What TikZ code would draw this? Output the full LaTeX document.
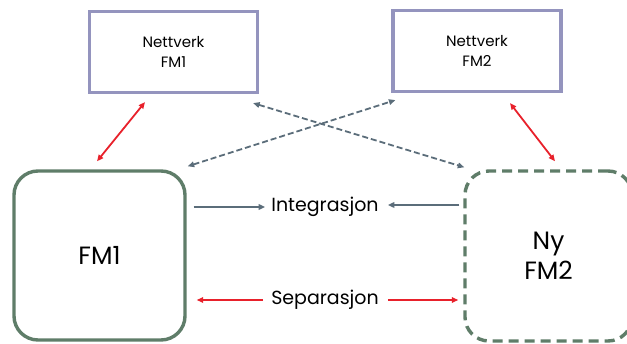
\documentclass[tikz,border=0pt]{standalone}
\usepackage{fontspec}
\setmainfont{Poppins}
\usetikzlibrary{arrows.meta,calc}
\definecolor{netline}{HTML}{9494BE}
\definecolor{fmline}{HTML}{5F7D69}
\definecolor{flowgray}{HTML}{5B6D7A}
\definecolor{flowred}{HTML}{E8212B}
\tikzset{
  x=1pt, y=-1pt,
  netbox/.style={draw=netline, line width=3.2pt, minimum width=168pt, minimum height=81pt,
    align=center, inner sep=0pt, font=\fontsize{15pt}{20pt}\selectfont},
  fmbox/.style={draw=fmline, line width=3.4pt, rounded corners=24pt, align=center,
    inner sep=0pt, font=\fontsize{25pt}{30pt}\selectfont},
  lbl/.style={inner sep=0pt, font=\fontsize{19pt}{22pt}\selectfont},
  tip/.style={-{Triangle[length=6.5pt,width=5.5pt]}},
  tips/.style={{Triangle[length=6.5pt,width=5.5pt]}-{Triangle[length=6.5pt,width=5.5pt]}},
  grayflow/.style={draw=flowgray, line width=1.8pt},
  redflow/.style={draw=flowred, line width=1.8pt},
}
\begin{document}
\begin{tikzpicture}
\useasboundingbox (0,0) rectangle (627,344);

% network boxes
\node[netbox] (nf1) at (173.5,52) {Nettverk\\FM1};
\node[netbox] (nf2) at (477,51) {Nettverk\\FM2};

% organisation boxes
\node[fmbox, minimum width=171pt, minimum height=169pt] (fm1) at (99.5,255.5) {FM1};
\node[fmbox, dashed, dash pattern=on 10pt off 6pt, minimum width=167pt, minimum height=170pt]
  (fm2) at (548.5,256) {Ny\\FM2};

% centre labels
\node[lbl] (integ) at (325,207) {Integrasjon};
\node[lbl] (sep) at (325,300) {Separasjon};

% links to the networks
\draw[redflow, tips] ($(fm1.north)+(-2.5,-8)$) -- ($(nf1.south)+(-28.5,8)$);
\draw[redflow, tips] ($(nf2.south)+(33,10)$) -- ($(fm2.north)+(6.5,-8)$);

% crossing dashed links
\draw[grayflow, tips, dashed, dash pattern=on 6pt off 3pt]
  ($(fm1.north east)+(1,-3)$) -- ($(nf2.south west)+(4,7)$);
\draw[grayflow, tips, dashed, dash pattern=on 6pt off 3pt]
  ($(nf1.south east)+(-6,9)$) -- ($(fm2.north west)+(1,-2)$);

% integration arrows
\draw[grayflow, tip] ($(fm1.east |- integ)+(7,0)$) -- ($(integ.west)+(-6,0)$);
\draw[grayflow, tip] ($(fm2.west |- integ)+(-4,-2)$) -- ($(integ.east)+(9,-2)$);

% separation arrows
\draw[redflow, tip] ($(sep.west)+(-8,0)$) -- ($(fm1.east |- sep)+(10,0)$);
\draw[redflow, tip] ($(sep.east)+(9,0)$) -- ($(fm2.west |- sep)+(-5,0)$);
\end{tikzpicture}
\end{document}
